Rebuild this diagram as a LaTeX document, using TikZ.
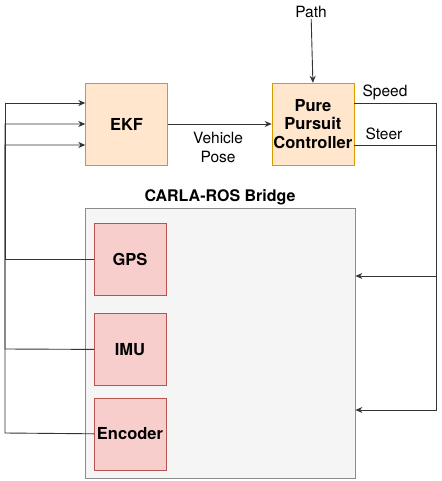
\documentclass[tikz,border=0pt]{standalone}
\usepackage{fontspec}
\setmainfont{TeX Gyre Heros}
\usepackage{tikz}
\usetikzlibrary{arrows.meta,positioning}
\definecolor{ctrlFill}{HTML}{FFE6CC}
\definecolor{ctrlLine}{HTML}{D79B00}
\definecolor{sensFill}{HTML}{F8CECC}
\definecolor{sensLine}{HTML}{B85450}
\definecolor{simFill}{HTML}{F5F5F5}
\definecolor{simLine}{HTML}{8C8C8C}
\definecolor{wire}{HTML}{333333}

\begin{document}
\begin{tikzpicture}[x=1pt, y=-1pt,
  block/.style={draw=ctrlLine, fill=ctrlFill, minimum width=82pt, minimum height=82pt, align=center, font=\fontsize{16.5}{18.5}\selectfont\bfseries, inner sep=1pt},
  sensor/.style={draw=sensLine, fill=sensFill, minimum width=72pt, minimum height=72pt, font=\fontsize{16.5}{18.5}\selectfont\bfseries, inner sep=1pt},
  lbl/.style={font=\fontsize{15.5}{19}\selectfont, align=center, inner sep=1pt},
  rel/.style={-{Stealth[length=7pt, width=6pt]}, line width=0.9pt, color=wire},
  wireline/.style={line width=0.9pt, color=wire}
]
  \useasboundingbox (0,0) rectangle (441,481);

  \node[block] (ekf) at (126.5,124) {EKF};
  \node[block, right=104pt of ekf] (ppc) {Pure\\Pursuit\\Controller};
  \node[lbl] (path) at (311,12) {Path};
  \node[lbl] (pose) at (218,147) {Vehicle\\Pose};
  \node[lbl] (speed) at (385,92) {Speed};
  \node[lbl] (steer) at (384,134) {Steer};

  \node[draw=simLine, fill=simFill, line width=0.8pt, minimum width=270pt, minimum height=270pt,
        label={[font=\fontsize{16}{18}\selectfont\bfseries, inner sep=2pt]above:CARLA-ROS Bridge}] (bridge) at (220,343) {};
  \node[sensor] (gps) at (130,259) {GPS};
  \node[sensor, below=18pt of gps] (imu) {IMU};
  \node[sensor, below=12pt of imu] (enc) {Encoder};

  \draw[rel] (path) -- (ppc.north);
  \draw[rel] (ekf) -- (ppc);
  \draw[rel] (gps.west) -- (5,259) |- ([yshift=21pt]ekf.west);
  \draw[rel] (imu.west) -- (5,349) |- (ekf.west);
  \draw[rel] (enc.west) -- (5,433) |- ([yshift=-21pt]ekf.west);
  \draw[rel] ([yshift=21pt]ppc.east) -- ++(82,0) |- ([yshift=67pt]bridge.east);
  \draw[rel] ([yshift=-21pt]ppc.east) -- ++(82,0) |- ([yshift=-67pt]bridge.east);
\end{tikzpicture}
\end{document}
